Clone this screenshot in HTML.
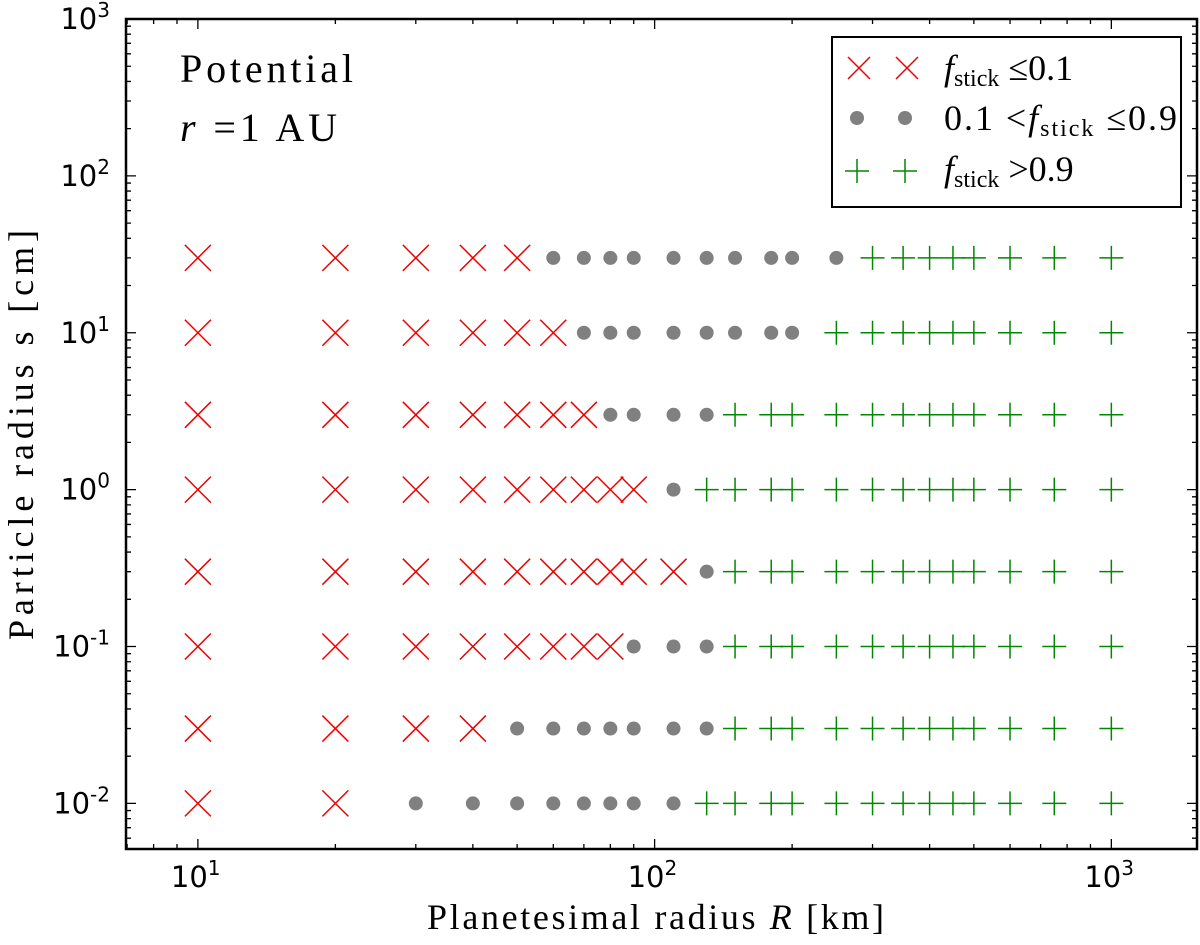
<!DOCTYPE html>
<html><head><meta charset="utf-8"><style>
html,body{margin:0;padding:0;background:#fff}
svg{display:block}
.tk{font-family:"DejaVu Sans",sans-serif;font-size:29px;fill:#000}
.serif{font-family:"Liberation Serif","DejaVu Serif",serif;fill:#000}
</style></head><body>
<svg id="chart" width="1200" height="945" viewBox="0 0 1200 945" xmlns="http://www.w3.org/2000/svg">
<g id="marks"></g>
<g id="axes"></g>
<text class="serif" x="180" y="82" font-size="40" textLength="173" lengthAdjust="spacing">Potential</text>
<text class="serif" x="180" y="141" font-size="40" textLength="157" lengthAdjust="spacing"><tspan font-style="italic">r</tspan> =1 AU</text>
<text class="serif" x="427" y="929" font-size="36" textLength="457" lengthAdjust="spacing">Planetesimal radius <tspan font-style="italic">R</tspan> [km]</text>
<text class="serif" x="0" y="0" font-size="36" textLength="410" lengthAdjust="spacing" transform="translate(33,640) rotate(-90)">Particle radius s [cm]</text>
<g>
<rect x="832" y="37" width="349" height="170" fill="#fff" stroke="#000" stroke-width="2"/>
<g>
<path d="M848,57 l22,22 M870,57 l-22,22 M896,57 l22,22 M918,57 l-22,22" stroke="#e00" stroke-width="1.5" fill="none"/>
<text class="serif" x="944" y="80" font-size="36"><tspan font-style="italic">f</tspan><tspan font-size="24" dy="6">stick</tspan><tspan dy="-6"> ≤0.1</tspan></text>
</g>
<g>
<circle cx="857" cy="118" r="7" fill="#808080"/><circle cx="905" cy="118" r="7" fill="#808080"/>
<text class="serif" x="944" y="130" font-size="36" textLength="233" lengthAdjust="spacing">0.1 &lt;<tspan font-style="italic">f</tspan><tspan font-size="24" dy="6">stick</tspan><tspan dy="-6"> ≤0.9</tspan></text>
</g>
<g>
<path d="M845,171 h24 M857,159 v24 M893,171 h24 M905,159 v24" stroke="#080" stroke-width="1.5" fill="none"/>
<text class="serif" x="944" y="181" font-size="36"><tspan font-style="italic">f</tspan><tspan font-size="24" dy="6">stick</tspan><tspan dy="-6"> &gt;0.9</tspan></text>
</g>
</g>
</svg>
<script>
const particleSizes = [30, 10, 3, 1, 0.3, 0.1, 0.03, 0.01];
const crossR = [[10,20,30,40,50],[10,20,30,40,50,60],[10,20,30,40,50,60,70],[10,20,30,40,50,60,70,80,90],[10,20,30,40,50,60,70,80,90,110],[10,20,30,40,50,60,70,80],[10,20,30,40],[10,20]];
const dotR = [[60,70,80,90,110,130,150,180,200,250],[70,80,90,110,130,150,180,200],[80,90,110,130],[110],[130],[90,110,130],[50,60,70,80,90,110,130],[30,40,50,60,70,80,90,110]];
const plusR = [[300,350,400,450,500,600,750,1000],[250,300,350,400,450,500,600,750,1000],[150,180,200,250,300,350,400,450,500,600,750,1000],[130,150,180,200,250,300,350,400,450,500,600,750,1000],[150,180,200,250,300,350,400,450,500,600,750,1000],[150,180,200,250,300,350,400,450,500,600,750,1000],[150,180,200,250,300,350,400,450,500,600,750,1000],[130,150,180,200,250,300,350,400,450,500,600,750,1000]];
const xTickExps = [1, 2, 3];
const yTickExps = [-2, -1, 0, 1, 2, 3];

const L=126,R=1197,T=19,B=849;
const xmin=Math.log10(6.96), xmax=Math.log10(1540);
const ymin=Math.log10(0.00512), ymax=3;
function sx(v){return L+(Math.log10(v)-xmin)/(xmax-xmin)*(R-L);}
function sy(v){return B-(Math.log10(v)-ymin)/(ymax-ymin)*(B-T);}
const NS="http://www.w3.org/2000/svg";
function mk(tag,attrs,parent){const e=document.createElementNS(NS,tag);for(const k in attrs)e.setAttribute(k,attrs[k]);parent.appendChild(e);return e;}
const marks=document.getElementById('marks'), axes=document.getElementById('axes');

particleSizes.forEach((s,i)=>{
  const y=sy(s);
  crossR[i].forEach(r=>{const x=sx(r);
    const p=mk('path',{d:`M${x-13},${y-13}L${x+13},${y+13}M${x+13},${y-13}L${x-13},${y+13}`,stroke:'#e00','stroke-width':1.5,fill:'none'},marks);
    
    });
  dotR[i].forEach(r=>{
    const c=mk('circle',{cx:sx(r),cy:y,r:7,fill:'#808080'},marks);
    
    });
  plusR[i].forEach(r=>{const x=sx(r);
    const p=mk('path',{d:`M${x-12},${y}H${x+12}M${x},${y-12}V${y+12}`,stroke:'#080','stroke-width':1.5,fill:'none'},marks);
    
    });
});

let d='';
for(let e=0;e<=3;e++)for(let m=1;m<10;m++){const v=m*Math.pow(10,e);const lv=Math.log10(v);if(lv<xmin||lv>xmax)continue;const x=sx(v);const len=m===1?10:5;d+=`M${x},${B}v${-len}M${x},${T}v${len}`;}
for(let e=-3;e<=3;e++)for(let m=1;m<10;m++){const v=m*Math.pow(10,e);const lv=Math.log10(v);if(lv<ymin-1e-9||lv>ymax+1e-9)continue;const y=sy(v);const len=m===1?10:5;d+=`M${L},${y}h${len}M${R},${y}h${-len}`;}
const tk=mk('path',{d:d,stroke:'#000','stroke-width':1.3,fill:'none'},axes);


const frame=mk('rect',{x:L,y:T,width:R-L,height:B-T,fill:'none',stroke:'#000','stroke-width':2.5},axes);



xTickExps.forEach(e=>{const t=mk('text',{x:sx(Math.pow(10,e))-27,y:887,class:'tk'},axes);
  t.innerHTML=`10<tspan font-size="20" dy="-12">${e}</tspan>`;
  
  });
yTickExps.forEach(e=>{const t=mk('text',{x:110,y:sy(Math.pow(10,e))+10,class:'tk','text-anchor':'end'},axes);
  t.innerHTML=`10<tspan font-size="20" dy="-12">${e}</tspan>`;
  
  });
</script>
</body></html>
